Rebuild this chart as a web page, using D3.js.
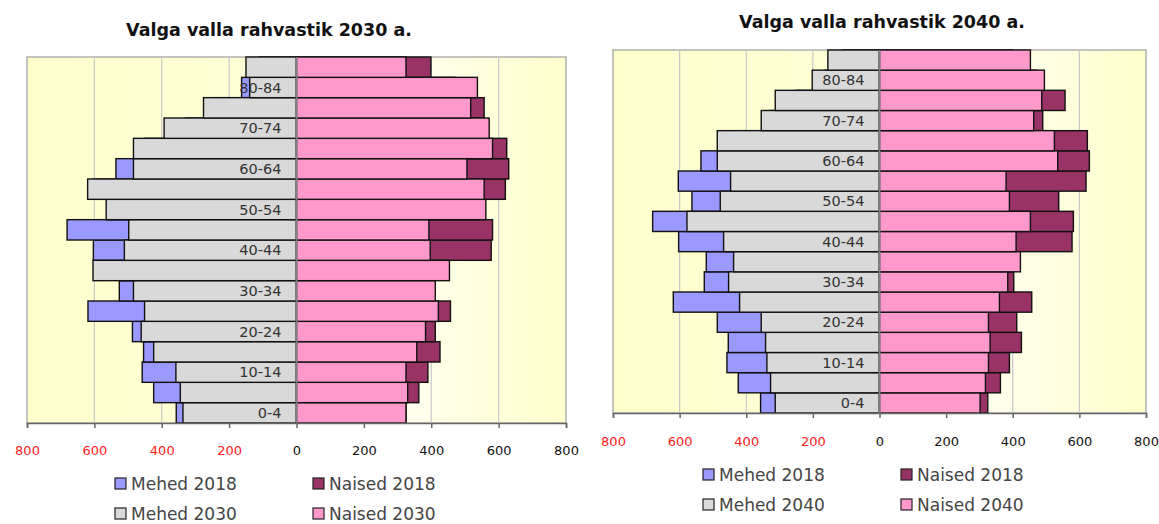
<!DOCTYPE html>
<html>
<head>
<meta charset="utf-8">
<script src="https://cdn.jsdelivr.net/npm/d3@7"></script>
<style>
  body { margin: 0; background: #fff; }
  svg { display: block; font-family: "DejaVu Sans", Verdana, sans-serif; }
</style>
</head>
<body>
<svg id="chart" width="1159" height="524"></svg>
<script>
// age groups, bottom to top
const ageGroups = ["0-4", "5-9", "10-14", "15-19", "20-24", "25-29", "30-34", "35-39", "40-44",
  "45-49", "50-54", "55-59", "60-64", "65-69", "70-74", "75-79", "80-84", "85+"];

const men2018   = [357, 424, 458, 454, 487, 619, 526, 520, 603, 681, 563, 604, 536, 450, 330, 250, 163, 110];
const women2018 = [325, 363, 390, 426, 412, 457, 403, 400, 578, 582, 538, 620, 630, 624, 490, 557, 470, 399];

const men2030   = [337, 345, 358, 424, 461, 451, 484, 604, 511, 498, 565, 620, 484, 484, 393, 276, 139, 150];
const women2030 = [325, 330, 325, 357, 383, 421, 412, 454, 397, 393, 562, 557, 506, 582, 572, 517, 537, 325];

const men2040   = [313, 327, 338, 342, 355, 420, 453, 438, 468, 578, 478, 447, 487, 487, 355, 313, 202, 155];
const women2040 = [302, 318, 327, 332, 327, 360, 385, 423, 410, 453, 390, 380, 535, 525, 463, 487, 495, 453];

const tickValues = [-800, -600, -400, -200, 0, 200, 400, 600, 800];

const colors = {
  men2018: "#9999FF",
  women2018: "#993366",
  menNow: "#D9D9D9",
  womenNow: "#FF99CC"
};

const svg = d3.select("#chart");

const defs = svg.append("defs");
const grad = defs.append("linearGradient").attr("id", "plotBg");
grad.append("stop").attr("offset", "0%").attr("stop-color", "#FFFFCC");
grad.append("stop").attr("offset", "40%").attr("stop-color", "#FFFFD6");
grad.append("stop").attr("offset", "72%").attr("stop-color", "#FFFFEC");
grad.append("stop").attr("offset", "100%").attr("stop-color", "#FFFFCC");

function drawPyramid(o) {
  const g = svg.append("g");

  const x = d3.scaleLinear().domain([-800, 800]).range([o.left, o.right]);
  const y = d3.scaleBand().domain(ageGroups).range([o.bottom, o.top]).padding(0);

  // title
  g.append("text")
    .attr("x", o.titleX).attr("y", o.titleY)
    .attr("text-anchor", "middle")
    .attr("font-weight", "bold")
    .attr("font-size", 17.5)
    .attr("fill", "#111")
    .text(o.title);

  // plot background
  g.append("rect")
    .attr("x", o.left).attr("y", o.top)
    .attr("width", o.right - o.left).attr("height", o.bottom - o.top)
    .attr("fill", "url(#plotBg)")
    .attr("stroke", "#B0B0B0")
    .attr("stroke-width", 1.5);

  // gridlines
  g.selectAll(".grid")
    .data(tickValues.filter(d => d !== -800 && d !== 800 && d !== 0))
    .enter().append("line")
    .attr("x1", d => x(d)).attr("x2", d => x(d))
    .attr("y1", o.top).attr("y2", o.bottom)
    .attr("stroke", "#C8C8C8")
    .attr("stroke-width", 1.2);

  const rows = ageGroups.map((a, i) => ({
    age: a, m18: men2018[i], w18: women2018[i], m: o.men[i], w: o.women[i]
  }));

  const bar = (sel, val, side, fill) => sel.enter().append("rect")
    .attr("x", d => side < 0 ? x(-val(d)) : x(0))
    .attr("width", d => x(val(d)) - x(0))
    .attr("y", d => y(d.age))
    .attr("height", y.bandwidth())
    .attr("fill", fill)
    .attr("stroke", "#111")
    .attr("stroke-width", 1.4);

  bar(g.append("g").selectAll("rect").data(rows), d => d.m18, -1, colors.men2018);
  bar(g.append("g").selectAll("rect").data(rows), d => d.m, -1, colors.menNow);
  bar(g.append("g").selectAll("rect").data(rows), d => d.w18, 1, colors.women2018);
  bar(g.append("g").selectAll("rect").data(rows), d => d.w, 1, colors.womenNow);

  // zero axis line
  g.append("line")
    .attr("x1", x(0)).attr("x2", x(0))
    .attr("y1", o.top).attr("y2", o.bottom)
    .attr("stroke", "#808080")
    .attr("stroke-width", 2);

  // category labels (every other group)
  g.selectAll(".cat")
    .data(ageGroups.filter((d, i) => i % 2 === 0))
    .enter().append("text")
    .attr("x", x(0) - 15)
    .attr("y", d => y(d) + y.bandwidth() / 2 + 5)
    .attr("text-anchor", "end")
    .attr("font-size", 14.5)
    .attr("fill", "#333")
    .text(d => d);

  // bottom axis
  const axis = g.append("g")
    .attr("transform", "translate(0," + o.bottom + ")")
    .call(d3.axisBottom(x).tickValues(tickValues).tickSize(5).tickFormat(d => Math.abs(d)));
  axis.select(".domain").attr("stroke", "#666").attr("stroke-width", 1.5);
  axis.selectAll(".tick line").attr("stroke", "#666").attr("stroke-width", 1.5);
  axis.selectAll(".tick text")
    .attr("y", o.tickLabelDy)
    .attr("font-size", 13)
    .attr("font-family", "DejaVu Sans, sans-serif")
    .attr("fill", d => d < 0 ? "#FF2020" : "#111");

  // legend
  const legendItems = [
    { label: "Mehed 2018", color: colors.men2018, col: 0, row: 0 },
    { label: "Naised 2018", color: colors.women2018, col: 1, row: 0 },
    { label: "Mehed " + o.year, color: colors.menNow, col: 0, row: 1 },
    { label: "Naised " + o.year, color: colors.womenNow, col: 1, row: 1 }
  ];
  const li = g.selectAll(".legend").data(legendItems).enter().append("g")
    .attr("transform", d => "translate(" + (o.legendX + d.col * 198) + "," + (o.legendY + d.row * 30) + ")");
  li.append("rect")
    .attr("x", 0).attr("y", -6).attr("width", 11).attr("height", 11)
    .attr("fill", d => d.color)
    .attr("stroke", "#222")
    .attr("stroke-width", 1.2);
  li.append("text")
    .attr("x", 16).attr("y", 6)
    .attr("font-size", 17)
    .attr("fill", "#444")
    .text(d => d.label);
}

drawPyramid({
  title: "Valga valla rahvastik 2030 a.", titleX: 269, titleY: 36, year: 2030,
  left: 27, right: 566, top: 57, bottom: 423,
  men: men2030, women: women2030,
  tickLabelDy: 23,
  legendX: 115, legendY: 484
});

drawPyramid({
  title: "Valga valla rahvastik 2040 a.", titleX: 882, titleY: 28, year: 2040,
  left: 613, right: 1146, top: 50, bottom: 413,
  men: men2040, women: women2040,
  tickLabelDy: 24,
  legendX: 703, legendY: 475
});
</script>
</body>
</html>
